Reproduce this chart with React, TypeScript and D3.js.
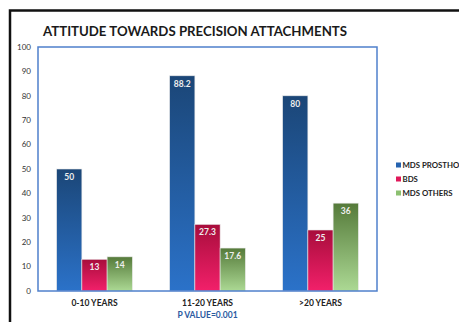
import React from 'react';
import * as d3 from 'd3';

const categories = ['0-10 YEARS', '11-20 YEARS', '>20 YEARS'];
const seriesNames = ['MDS PROSTHO', 'BDS', 'MDS OTHERS'];
const mdsProstho = [50, 88.2, 80];
const bds = [13, 27.3, 25];
const mdsOthers = [14, 17.6, 36];
const yTicks = [0, 10, 20, 30, 40, 50, 60, 70, 80, 90, 100];

const seriesValues = [mdsProstho, bds, mdsOthers];
const gradients = [
  ['#1b4677', '#2b72c9'],
  ['#a80d3c', '#f2206a'],
  ['#557a3a', '#acd994'],
];
const legendColors = ['#2563b0', '#e0185a', '#8cc070'];

const W = 459;
const H = 322;
const plot = { left: 38, right: 377, top: 47, bottom: 291 };
const font = 'Lato, "Open Sans", sans-serif';

export default function App() {
  const x0 = d3
    .scaleBand<string>()
    .domain(categories)
    .range([plot.left, plot.right])
    .paddingInner(0.33)
    .paddingOuter(0.165);
  const x1 = d3
    .scaleBand<number>()
    .domain([0, 1, 2])
    .range([0, x0.bandwidth()]);
  const y = d3.scaleLinear().domain([0, 100]).range([plot.bottom, plot.top]);

  return (
    <svg
      width={W}
      height={H}
      style={{ position: 'fixed', left: 0, top: 0, background: '#fff' }}
    >
      <defs>
        {gradients.map((g, i) => (
          <linearGradient key={i} id={'g' + i} x1="0" y1="0" x2="0" y2="1">
            <stop offset="0%" stopColor={g[0]} />
            <stop offset="100%" stopColor={g[1]} />
          </linearGradient>
        ))}
      </defs>

      {/* outer frame, runs off the right and bottom */}
      <rect x={10} y={10.5} width={W + 20} height={H + 20} fill="none" stroke="#111" strokeWidth={2.5} />

      <text
        x={43}
        y={36}
        fontFamily={font}
        fontWeight="bold"
        fontSize={13}
        textLength={304}
        lengthAdjust="spacingAndGlyphs"
        fill="#1a1a1a"
      >
        ATTITUDE TOWARDS PRECISION ATTACHMENTS
      </text>

      {yTicks.map((t) => (
        <text
          key={t}
          x={31}
          y={y(t)}
          dy="0.35em"
          textAnchor="end"
          fontFamily={font}
          fontSize={8}
          fill="#333"
        >
          {t}
        </text>
      ))}

      {categories.map((c, ci) =>
        seriesValues.map((vals, si) => {
          const bx = (x0(c) as number) + (x1(si) as number);
          const by = y(vals[ci]);
          return (
            <g key={c + si}>
              <rect
                x={bx}
                y={by}
                width={x1.bandwidth()}
                height={plot.bottom - by}
                fill={`url(#g${si})`}
                stroke="#e8e8e8"
                strokeWidth={0.6}
              />
              <text
                x={bx + x1.bandwidth() / 2}
                y={by + 11}
                textAnchor="middle"
                fontFamily={font}
                fontWeight="bold"
                fontSize={8.5}
                fill="#eeeeee"
              >
                {vals[ci]}
              </text>
            </g>
          );
        })
      )}

      <rect
        x={plot.left}
        y={plot.top}
        width={plot.right - plot.left}
        height={plot.bottom - plot.top}
        fill="none"
        stroke="#4f80cc"
        strokeWidth={1.5}
      />

      {categories.map((c) => (
        <text
          key={c}
          x={(x0(c) as number) + x0.bandwidth() / 2}
          y={306}
          textAnchor="middle"
          fontFamily={font}
          fontWeight="bold"
          fontSize={8.5}
          fill="#222"
        >
          {c}
        </text>
      ))}
      <text
        x={(x0(categories[1]) as number) + x0.bandwidth() / 2}
        y={318}
        textAnchor="middle"
        fontFamily={font}
        fontWeight="bold"
        fontSize={8.5}
        fill="#2c5aa0"
      >
        P VALUE=0.001
      </text>

      {seriesNames.map((s, i) => (
        <g key={s} transform={`translate(396,${165 + i * 14})`}>
          <rect x={0} y={-2.5} width={5} height={5} fill={legendColors[i]} />
          <text x={6.5} y={0} dy="0.35em" fontFamily={font} fontWeight="bold" fontSize={7.8} fill="#222">
            {s}
          </text>
        </g>
      ))}
    </svg>
  );
}
